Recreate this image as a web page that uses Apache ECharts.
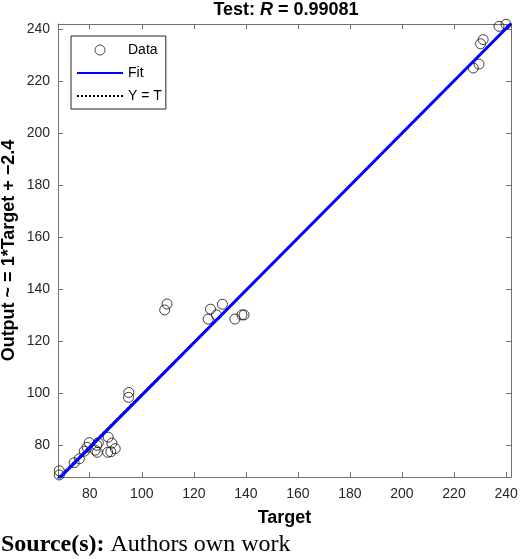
<!DOCTYPE html>
<html>
<head>
<meta charset="utf-8">
<script src="https://cdn.jsdelivr.net/npm/echarts@6/dist/echarts.min.js"></script>
<style>
  html, body { margin: 0; padding: 0; background: #fff; }
  #chart { width: 520px; height: 559px; }
</style>
</head>
<body>
<div id="chart"></div>
<script>
// values (Target vs network output)
const targets = [68.3, 68.3, 74.0, 76.0, 77.9, 79.0, 79.8, 82.7, 83.3, 82.1, 82.9,
                 87.1, 88.5, 88.1, 89.8, 86.9, 95.0, 94.9,
                 109.7, 108.8, 126.4, 125.5, 128.7, 131.0, 135.8, 138.5, 139.3,
                 240.0, 237.3, 231.2, 230.2, 229.6, 227.4];
const outputs = [70.2, 68.6, 73.3, 74.8, 77.7, 79.2, 81.0, 80.0, 81.0, 78.1, 77.3,
                 83.1, 80.8, 77.5, 78.7, 77.3, 100.3, 98.4,
                 134.3, 132.0, 132.3, 128.5, 130.1, 134.2, 128.5, 130.1, 130.1,
                 241.8, 241.0, 235.9, 234.3, 226.5, 225.0];

// fit line ends and the Y = T line ends
const fitT = [67.8, 241.9];
const fitO = [66.8, 242.1];
const idT = [67.8, 241.9];
const idO = [67.8, 241.9];

const tickValues = [80, 100, 120, 140, 160, 180, 200, 220, 240];
const axisMin = 67.8;
const axisMax = 241.9;

const sansFont = '"Liberation Sans", Arial, sans-serif';
const serifFont = '"Liberation Serif", "Times New Roman", serif';
const axisColor = '#707070';
const textColor = '#262626';

function makeAxis(pos, showLabels) {
    return {
        type: 'value',
        position: pos,
        min: axisMin,
        max: axisMax,
        splitLine: { show: false },
        axisLine: { show: true, onZero: false, lineStyle: { color: axisColor, width: 1 } },
        axisTick: { show: true, inside: true, length: 5, customValues: tickValues,
                    lineStyle: { color: axisColor, width: 1 } },
        axisLabel: { show: showLabels, customValues: tickValues, color: textColor,
                     fontSize: 14, fontFamily: sansFont,
                     margin: (pos === 'bottom') ? 10 : 8 }
    };
}

let xBottom = makeAxis('bottom', true);
xBottom.name = 'Target';
xBottom.nameLocation = 'middle';
xBottom.nameGap = 32;
xBottom.nameMoveOverlap = false;
xBottom.nameTextStyle = { fontSize: 18, fontWeight: 'bold', color: '#000', fontFamily: sansFont };

let yLeft = makeAxis('left', true);
yLeft.name = 'Output ~ = 1*Target + \u22122.4';
yLeft.nameLocation = 'middle';
yLeft.nameRotate = 90;
yLeft.nameGap = 40;
yLeft.nameMoveOverlap = false;
yLeft.nameTextStyle = { fontSize: 18, fontWeight: 'bold', color: '#000', fontFamily: sansFont };

const chart = echarts.init(document.getElementById('chart'));

chart.setOption({
    animation: false,
    backgroundColor: '#fff',
    title: {
        text: '{b|Test: }{i|R}{b| = 0.99081}',
        left: 286,
        top: 1,
        textAlign: 'center',
        padding: 0,
        textStyle: {
            rich: {
                b: { fontSize: 18, fontWeight: 'bold', color: '#000', fontFamily: sansFont },
                i: { fontSize: 18, fontWeight: 'bold', fontStyle: 'italic', color: '#000', fontFamily: sansFont }
            }
        }
    },
    grid: { left: 58, top: 24, width: 453, height: 453, containLabel: false, outerBoundsMode: 'none' },
    xAxis: [xBottom, makeAxis('top', false)],
    yAxis: [yLeft, makeAxis('right', false)],
    legend: {
        orient: 'vertical',
        left: 71,
        top: 36,
        padding: [7, 4, 6, 5],
        itemWidth: 46,
        itemHeight: 10,
        itemGap: 9,
        borderColor: '#262626',
        borderWidth: 1,
        backgroundColor: '#fff',
        textStyle: { fontSize: 14, color: '#000', fontFamily: sansFont },
        data: [
            { name: 'Data', itemStyle: { color: 'rgba(0,0,0,0)', borderColor: '#222', borderWidth: 1 } },
            { name: 'Fit', itemStyle: { color: 'rgba(0,0,0,0)', borderWidth: 0, opacity: 0 } },
            { name: 'Y = T', itemStyle: { color: 'rgba(0,0,0,0)', borderWidth: 0, opacity: 0 } }
        ]
    },
    series: [
        {
            name: 'Data',
            type: 'scatter',
            symbol: 'circle',
            symbolSize: 10,
            itemStyle: { color: 'rgba(0,0,0,0)', borderColor: '#111', borderWidth: 1 },
            data: targets.map((t, i) => [t, outputs[i]])
        },
        {
            name: 'Fit',
            type: 'line',
            symbol: 'none',
            clip: true,
            lineStyle: { color: '#0000ff', width: 3 },
            itemStyle: { color: '#0000ff' },
            data: fitT.map((t, i) => [t, fitO[i]])
        },
        {
            name: 'Y = T',
            type: 'line',
            symbol: 'none',
            clip: true,
            z: 1,
            lineStyle: { color: '#000', width: 1, type: 'dotted' },
            itemStyle: { color: '#000' },
            data: idT.map((t, i) => [t, idO[i]])
        }
    ],
    graphic: [
        {
            type: 'text',
            left: 1,
            top: 533,
            style: {
                text: '{b|Source(s):} Authors own work',
                fontSize: 24,
                fontFamily: serifFont,
                fill: '#000',
                rich: {
                    b: { fontSize: 24, fontWeight: 'bold', fontFamily: serifFont, fill: '#000' }
                }
            }
        }
    ]
});
</script>
</body>
</html>
